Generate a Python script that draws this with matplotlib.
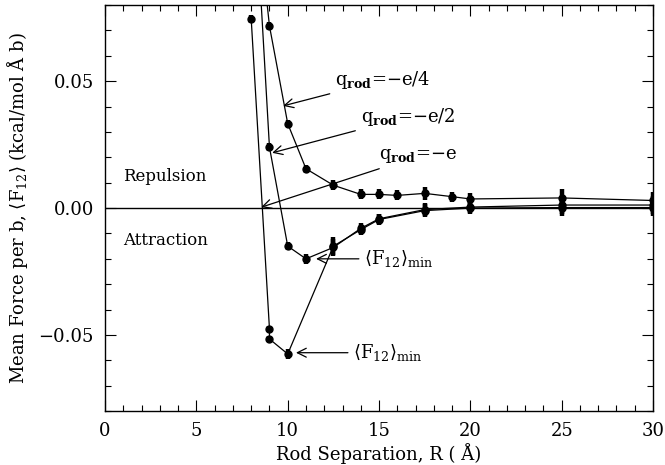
import numpy as np
import matplotlib
matplotlib.use('Agg')
import matplotlib.pyplot as plt
from matplotlib.ticker import MultipleLocator

plt.rcParams['font.family'] = 'DejaVu Serif'
plt.rcParams['mathtext.fontset'] = 'dejavuserif'

# q_rod = -e/4
R_e4 = [8, 9, 10, 11, 12.5, 14, 15, 16, 17.5, 19, 20, 25, 30]
F_e4 = [0.139, 0.0718, 0.0333, 0.0155, 0.0090, 0.0054, 0.0054, 0.0050, 0.0058, 0.0045, 0.0036, 0.0040, 0.0030]
E_e4 = [0, 0.0015, 0.0015, 0.0015, 0.002, 0.002, 0.002, 0.002, 0.0025, 0.002, 0.0025, 0.0035, 0.0035]

# q_rod = -e/2
R_e2 = [8, 9, 10, 11, 12.5, 14, 15, 17.5, 20, 25, 30]
F_e2 = [0.149, 0.024, -0.0150, -0.0200, -0.0155, -0.0080, -0.0042, -0.0006, 0.0004, 0.0012, 0.0012]
E_e2 = [0, 0.0015, 0.0015, 0.002, 0.0035, 0.002, 0.002, 0.0025, 0.0025, 0.0035, 0.0035]

# q_rod = -e
R_e1 = [8, 9, 9, 10, 12.5, 14, 15, 17.5, 20, 25, 30]
F_e1 = [0.0746, -0.0476, -0.0516, -0.0575, -0.0150, -0.0085, -0.0045, -0.0010, 0.0000, 0.0002, 0.0002]
E_e1 = [0.0015, 0.001, 0.001, 0.002, 0.0035, 0.002, 0.002, 0.0025, 0.0025, 0.0035, 0.0035]

fig = plt.figure(figsize=(6.65, 4.65), dpi=100)
ax = fig.add_axes([0.158, 0.116, 0.824, 0.873])

for R, F, E in [(R_e4, F_e4, E_e4), (R_e2, F_e2, E_e2), (R_e1, F_e1, E_e1)]:
    ax.errorbar(R, F, yerr=E, fmt='o', color='black', ms=5, elinewidth=3.2,
                capsize=0, ls='-', lw=0.9)

ax.axhline(0, color='black', lw=1.0)

ax.set_xlim(0, 30)
ax.set_ylim(-0.08, 0.08)
ax.xaxis.set_major_locator(MultipleLocator(5))
ax.xaxis.set_minor_locator(MultipleLocator(1))
ax.yaxis.set_major_locator(MultipleLocator(0.05))
ax.yaxis.set_minor_locator(MultipleLocator(0.01))
ax.yaxis.set_major_formatter(matplotlib.ticker.FuncFormatter(
    lambda v, p: ('\u2212' if v < -1e-9 else '') + '%.2f' % abs(v)))
ax.tick_params(which='both', direction='in', top=True, right=True, labelsize=13)
ax.tick_params(which='major', length=8, width=0.8, pad=8)
ax.tick_params(which='minor', length=4, width=0.8)
for s in ax.spines.values():
    s.set_linewidth(1.0)

ax.set_xlabel('Rod Separation, R ( Å)', fontsize=13, labelpad=2)
ax.set_ylabel(r'Mean Force per b, $\langle\mathrm{F}_{12}\rangle$ (kcal/mol Å b)', fontsize=13, labelpad=6)

ax.text(1.0, 0.0125, 'Repulsion', fontsize=12, va='center')
ax.text(1.0, -0.0128, 'Attraction', fontsize=12, va='center')

arw = dict(arrowstyle='->', color='black', lw=0.9, mutation_scale=16)
ax.annotate('q$_{\\mathbf{rod}}$=\u2212e/4', xy=(9.6, 0.0400), xytext=(12.6, 0.0505),
            fontsize=13, va='center', arrowprops=arw)
ax.annotate('q$_{\\mathbf{rod}}$=\u2212e/2', xy=(9.0, 0.0215), xytext=(14.0, 0.0360),
            fontsize=13, va='center', arrowprops=arw)
ax.annotate('q$_{\\mathbf{rod}}$=\u2212e', xy=(8.4, 0.0), xytext=(15.0, 0.0205),
            fontsize=13, va='center', arrowprops=arw)
ax.annotate(r'$\langle\mathrm{F}_{12}\rangle_{\mathrm{min}}$', xy=(11.4, -0.0200), xytext=(14.2, -0.0200),
            fontsize=13, va='center', arrowprops=arw)
ax.annotate(r'$\langle\mathrm{F}_{12}\rangle_{\mathrm{min}}$', xy=(10.3, -0.0570), xytext=(13.6, -0.0570),
            fontsize=13, va='center', arrowprops=arw)

fig.savefig('out.png', dpi=100)
